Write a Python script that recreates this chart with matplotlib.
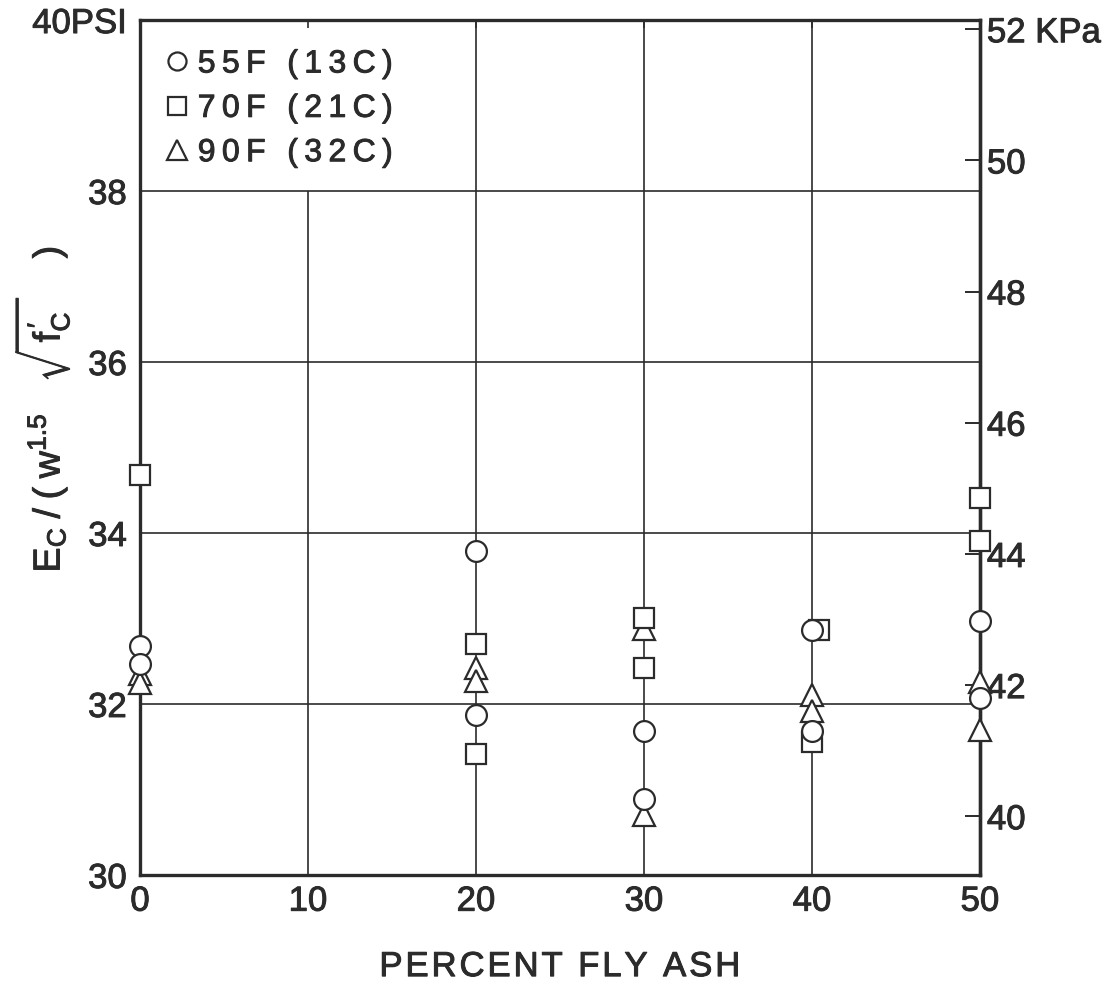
import matplotlib
matplotlib.use("Agg")
import matplotlib.pyplot as plt
import matplotlib.patheffects as pe
from matplotlib.lines import Line2D

plt.rcParams['font.family'] = ['Liberation Sans', 'DejaVu Sans']
plt.rcParams['mathtext.fontset'] = 'custom'
plt.rcParams['mathtext.rm'] = 'Liberation Sans'
plt.rcParams['mathtext.it'] = 'Liberation Sans'
plt.rcParams['mathtext.bf'] = 'Liberation Sans:bold'

INK = '#2b2b2b'
HEAVY = [pe.withStroke(linewidth=0.7, foreground=INK)]

# Modulus ratio E_c / (w^1.5 sqrt(f'c)) against fly ash content
x_55f = [0, 0, 20, 20, 30, 30, 40, 40, 50, 50]
y_55f = [32.68, 32.47, 33.79, 31.87, 31.68, 30.89, 32.87, 31.68, 32.97, 32.07]

x_70f = [0, 20, 20, 30, 30, 40.4, 40, 50, 50]
y_70f = [34.68, 32.70, 31.41, 33.00, 32.42, 32.87, 31.55, 34.41, 33.91]

x_90f = [0, 0, 20, 20, 30, 30, 40, 40, 50, 50]
y_90f = [32.35, 32.25, 32.42, 32.27, 32.88, 30.70, 32.11, 31.92, 32.26, 31.69]

series_labels = ['55F (13C)', '70F (21C)', '90F (32C)']
x_title = 'PERCENT FLY ASH'

x_ticks = [0, 10, 20, 30, 40, 50]
psi_ticks = [30, 32, 34, 36, 38, 40]
psi_tick_labels = ['30', '32', '34', '36', '38', '40PSI']
kpa_ticks = [40, 42, 44, 46, 48, 50, 52]
kpa_tick_labels = ['40', '42', '44', '46', '48', '50', '52 KPa']
PSI_TO_KPA = 1.3035


def tracked(s, gap):
    """Open up letter spacing by putting a narrow space between characters."""
    return gap.join(s)


fig = plt.figure(figsize=(11.14, 9.82), dpi=100)
ax = fig.add_axes([0.1257, 0.1090, 0.7540, 0.8706])
ax.set_xlim(0, 50)
ax.set_ylim(30, 40)

# grid drawn by hand: the 10% line stops below the legend
for gx in [20, 30, 40]:
    ax.axvline(gx, color=INK, lw=1.2, zorder=1)
ax.vlines(10, 30, 38, color=INK, lw=1.2, zorder=1)
for gy in [32, 34, 36, 38]:
    ax.axhline(gy, color=INK, lw=1.2, zorder=1)

mk = dict(linestyle='none', markerfacecolor='white', markeredgecolor=INK,
          markeredgewidth=1.6)
ax.plot(x_90f, y_90f, marker='^', markersize=16, zorder=3, clip_on=False, **mk)
ax.plot(x_70f, y_70f, marker='s', markersize=15, zorder=4, clip_on=False, **mk)
ax.plot(x_55f, y_55f, marker='o', markersize=15, zorder=5, clip_on=False, **mk)

for s in ax.spines.values():
    s.set_linewidth(2.4)
    s.set_color(INK)

ax.set_xticks(x_ticks)
ax.set_xticklabels([str(v) for v in x_ticks])
ax.set_yticks(psi_ticks)
ax.set_yticklabels(psi_tick_labels)
ax.tick_params(axis='x', bottom=False, top=True, direction='in', length=6,
               width=1.2, color=INK, labelsize=25, labelcolor=INK, pad=7)
ax.tick_params(axis='y', left=False, labelsize=25, labelcolor=INK, pad=6)

sec = ax.secondary_yaxis('right', functions=(lambda p: p * PSI_TO_KPA,
                                             lambda k: k / PSI_TO_KPA))
sec.set_yticks(kpa_ticks)
sec.set_yticklabels(kpa_tick_labels)
sec.tick_params(direction='in', length=11, width=1.4, color=INK,
                labelsize=25, labelcolor=INK, pad=5)
sec.spines['right'].set_linewidth(2.4)
sec.spines['right'].set_color(INK)

handles = [Line2D([], [], marker=m, markersize=sz, **mk)
           for m, sz in [('o', 13), ('s', 13), ('^', 15)]]
leg = ax.legend(handles, [tracked(t, '\u2009') for t in series_labels],
                loc='upper left', bbox_to_anchor=(0.006, 0.988), frameon=False,
                fontsize=23, handlelength=0.8, handletextpad=0.25,
                labelspacing=0.45, borderaxespad=0.2)
for t in leg.get_texts():
    t.set_color(INK)
    t.set_path_effects(HEAVY)

for lbl in ax.get_xticklabels() + ax.get_yticklabels() + sec.get_yticklabels():
    lbl.set_path_effects(HEAVY)

fig.text(0.5025, 0.006, tracked(x_title, '\u200a'), ha='center', va='baseline',
         fontsize=25, color=INK, path_effects=HEAVY)
fig.text(0.036, 0.584,
         r"$\mathrm{E_C\;/\;(\;w^{1.5}\quad\sqrt{\,f_C^{\,\prime}\;}\quad\;)}$",
         rotation=90, ha='center', va='center', fontsize=27, color=INK,
         path_effects=HEAVY)

fig.savefig('out.png', dpi=100)
